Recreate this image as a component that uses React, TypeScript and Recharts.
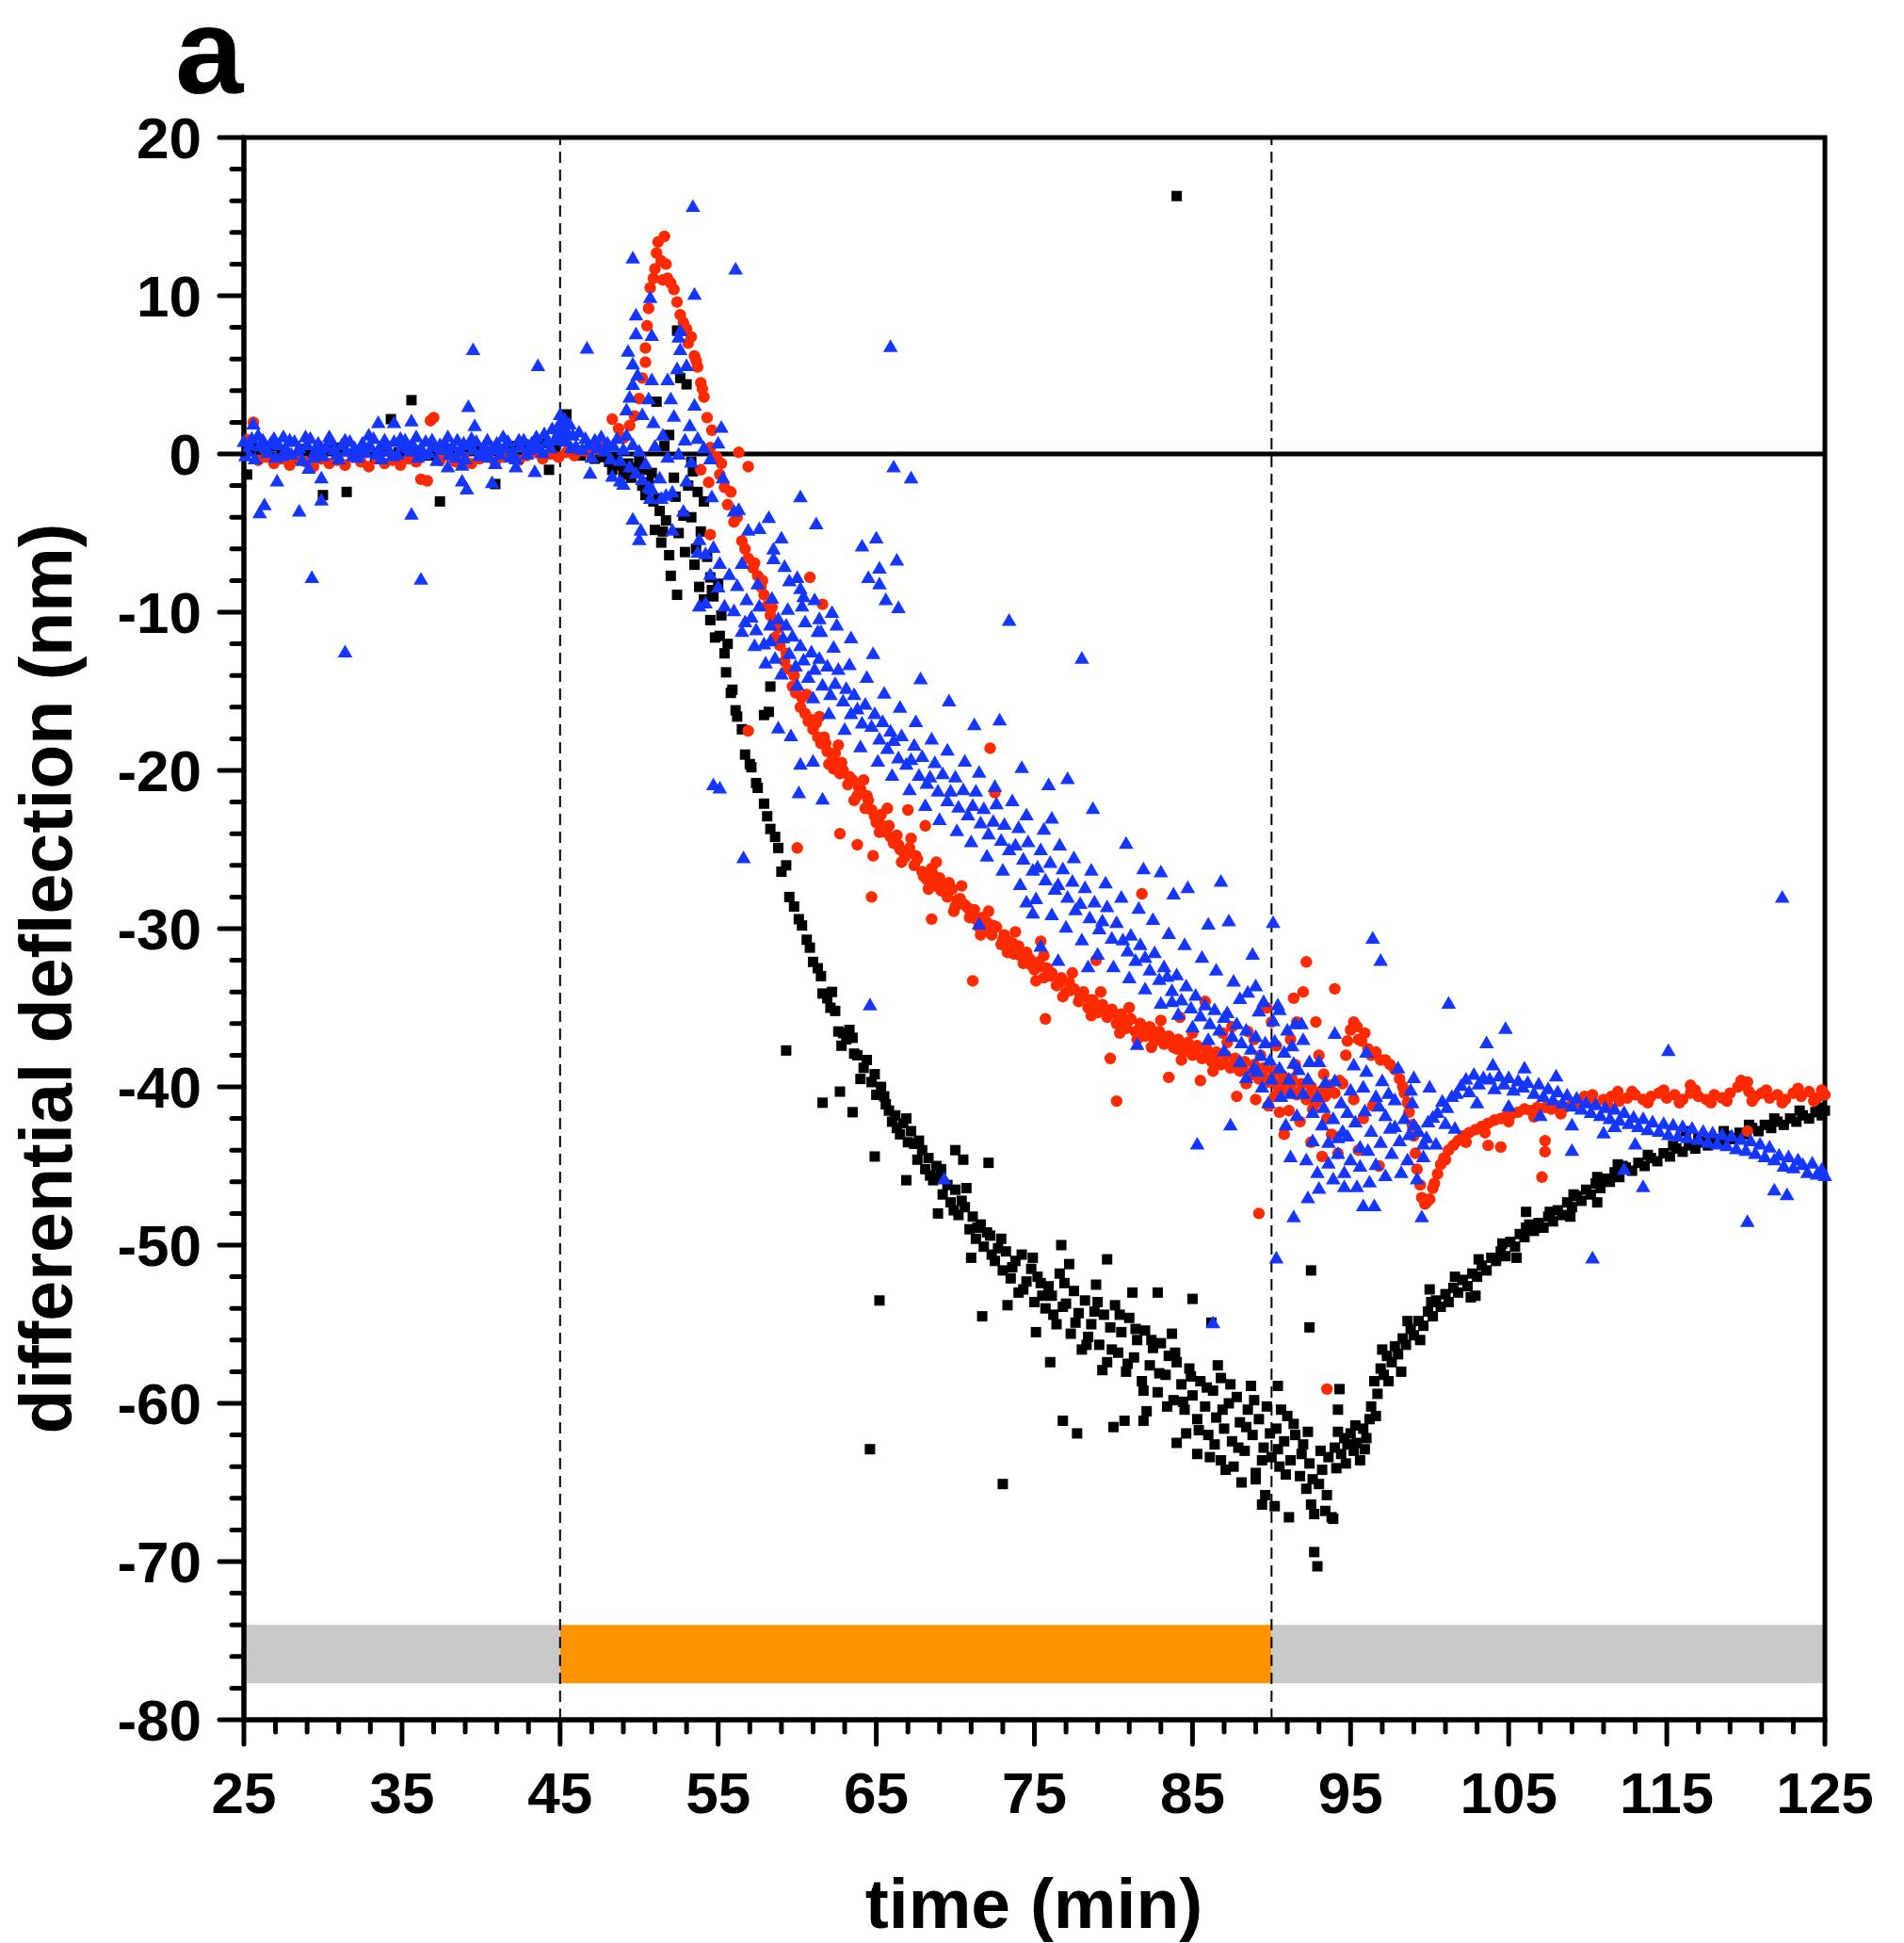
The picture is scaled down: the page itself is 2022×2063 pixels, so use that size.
import { ScatterChart, Scatter, XAxis, YAxis, ReferenceLine, ReferenceArea } from "recharts";

// time axis (min) and deflection axis (nm)
const xTicks = [25,27,29,31,33,35,37,39,41,43,45,47,49,51,53,55,57,59,61,63,65,67,69,71,73,75,77,79,81,83,85,87,89,91,93,95,97,99,101,103,105,107,109,111,113,115,117,119,121,123,125];
const xLabels = [25,35,45,55,65,75,85,95,105,115,125];
const yTicks = [-80,-78,-76,-74,-72,-70,-68,-66,-64,-62,-60,-58,-56,-54,-52,-50,-48,-46,-44,-42,-40,-38,-36,-34,-32,-30,-28,-26,-24,-22,-20,-18,-16,-14,-12,-10,-8,-6,-4,-2,0,2,4,6,8,10,12,14,16,18,20];
const yLabels = [-80,-70,-60,-50,-40,-30,-20,-10,0,10,20];

// buffer / injection phases shown as the strip at the bottom
const phases = [
  { from: 25, to: 45, kind: "buffer" },
  { from: 45, to: 90, kind: "injection" },
  { from: 90, to: 125, kind: "buffer" },
];
const phaseStrip = [-77.7, -74.0];
const switchTimes = [45, 90];

// [time, deflection]
const blackSquares: [number, number][] = [
  [25.2,-1.3],[25.5,0.4],[26.1,0.1],[26.8,0.5],[27.4,0.2],[28.0,-0.3],[28.7,0.3],[29.3,0.1],[30.0,-2.6],[30.5,0.2],[31.1,0.4],[31.5,-2.4],[32.0,0.0],[32.6,0.3],[33.3,-0.2],[33.9,0.5],[34.3,2.2],[34.8,0.1],[35.6,3.4],[36.1,0.2],[36.7,-0.1],[37.4,-3.0],[38.0,0.3],[38.6,0.1],[39.2,0.4],[39.9,0.2],[40.9,-1.9],[41.4,0.3],[42.0,0.5],[42.7,0.6],[43.3,0.4],[43.9,0.7],[44.3,-1.0],[44.7,0.3],[45.4,2.5],
  [45.8,0.2],[46.3,-0.1],[46.8,0.1],[47.2,-0.3],[47.7,-0.2],[48.1,-0.5],[48.5,-0.4],[48.9,-0.7],[49.3,-0.6],[49.7,-0.9],[50.0,-0.4],[50.2,-2.0],[50.3,-1.0],[50.6,-1.8],[50.9,-3.0],[51.0,-4.8],[51.1,3.3],[51.2,-2.8],[51.4,-5.6],[51.5,-4.9],[51.6,0.5],[51.9,1.2],[52.0,-7.7],[52.2,-1.5],[52.4,7.8],[52.4,-8.9],[52.6,4.8],[52.8,-3.9],[53.0,4.4],[53.1,-2.0],[53.3,-0.5],[53.3,-4.0],[53.4,-1.1],[53.6,-6.0],[53.7,-2.4],[53.9,-4.9],[54.1,-3.0],[54.1,-9.2],[54.3,-6.5],[54.5,-7.8],[54.5,-10.5],[54.7,-9.0],[54.8,-11.6],[55.0,-8.2],[55.1,-11.5],[55.2,-10.2],[55.4,-12.6],[55.5,-13.8],[55.6,-12.0],[55.8,-15.1],[55.9,-14.9],[56.1,-16.2],[56.2,-16.6],[56.5,-17.4],[56.7,-19.0],[57.0,-19.6],[57.1,-19.8],[57.4,-20.8],[57.5,-21.1],[57.9,-16.5],[58.2,-16.3],[58.3,-14.7],
  [48.3,-1.0],[49.0,-1.3],[49.5,-1.5],[50.4,-2.6],[50.8,-1.2],[51.3,-3.6],[51.7,-4.2],[52.5,-5.0],[52.9,-6.2],[53.5,-7.0],[53.8,-8.4],[54.6,-8.6],[52.3,-2.7],[51.9,-6.4],
  [57.9,-22.1],[58.1,-22.9],[58.3,-23.7],[58.6,-24.2],[58.8,-24.9],[59.0,-26.4],[59.3,-26.0],[59.5,-28.0],[59.8,-28.6],[60.1,-29.4],[60.3,-29.8],[60.6,-30.7],[60.8,-31.2],[61.0,-32.1],[61.3,-32.5],[61.5,-33.0],[61.6,-34.1],[61.9,-34.4],[62.1,-35.0],[62.4,-35.2],[62.6,-36.5],[62.9,-36.6],[63.1,-37.0],[63.3,-36.4],[63.6,-37.9],[63.8,-38.0],[64.2,-38.8],[64.4,-38.3],[64.7,-39.7],[65.0,-40.5],[65.3,-40.0],[65.6,-41.1],[65.8,-41.5],[66.0,-42.2],[66.2,-41.8],[66.5,-43.0],[66.7,-42.3],[67.0,-43.5],[67.2,-42.8],[67.4,-43.6],[67.6,-44.6],[67.9,-44.0],[68.1,-45.2],[68.3,-44.5],[68.6,-45.9],[68.8,-45.0],[69.0,-45.7],[69.2,-46.8],[69.5,-46.2],[69.7,-47.3],[70.0,-46.5],[70.2,-48.1],[70.4,-47.2],[70.6,-47.6],[70.9,-49.0],[71.1,-48.2],[71.3,-49.6],[71.6,-48.7],[71.8,-50.1],[72.0,-49.2],[72.2,-49.4],[72.5,-51.0],[72.7,-50.2],[73.0,-51.6],[73.2,-50.4],[73.5,-52.1],[73.8,-51.0],[74.0,-53.0],[74.2,-50.6],[74.5,-52.3],[74.8,-51.5],[75.0,-53.6],[75.2,-52.0],[75.4,-52.4],[75.7,-54.0],[75.9,-52.6],[76.1,-53.2],[76.4,-55.0],[76.6,-51.8],[76.8,-53.9],[77.0,-53.7],[77.3,-55.6],[77.5,-52.9],[77.8,-54.3],[78.0,-56.6],[78.2,-53.5],[78.4,-55.8],[78.6,-55.0],[78.9,-52.5],[79.1,-56.3],[79.4,-54.4],[79.6,-57.4],[79.8,-55.2],
  [62.2,-34.0],[62.8,-37.4],[63.5,-36.9],[64.0,-39.5],[64.9,-39.2],[65.5,-40.6],[66.3,-42.6],[66.9,-42.0],[67.7,-43.4],[68.4,-45.6],[69.1,-45.2],[69.9,-47.8],[70.7,-46.4],[71.4,-48.9],[72.3,-50.6],[72.9,-49.6],[73.6,-51.4],[74.3,-52.8],[74.9,-50.8],[75.5,-53.2],[76.2,-54.4],[76.9,-52.4],[77.6,-54.9],[78.3,-56.3],[78.8,-54.2],[79.3,-57.9],[79.9,-56.6],[75.1,-55.5],[77.2,-51.2],[79.0,-53.6],[73.3,-53.8],[71.0,-50.8],[68.9,-48.0],
  [80.1,-53.8],[80.3,-56.8],[80.5,-55.5],[80.8,-58.0],[81.0,-54.6],[81.3,-57.1],[81.5,-56.0],[81.8,-58.6],[82.0,-55.4],[82.3,-57.6],[82.5,-56.5],[82.8,-59.3],[83.0,-56.2],[83.3,-58.2],[83.5,-57.0],[83.8,-59.8],[84.0,-57.4],[84.3,-58.8],[84.5,-60.4],[84.8,-57.8],[85.0,-59.5],[85.3,-61.0],[85.5,-58.6],[85.8,-60.2],[86.0,-62.0],[86.3,-59.2],[86.5,-60.9],[86.8,-58.4],[87.0,-61.6],[87.3,-60.0],[87.5,-62.4],[87.8,-59.6],[88.0,-61.2],[88.3,-63.0],[88.5,-60.4],[88.8,-62.0],[89.0,-64.4],[89.2,-61.0],[89.5,-62.8],[89.7,-60.2],[90.0,-63.4],[90.3,-61.6],[90.5,-64.0],[90.8,-62.4],[91.0,-60.8],[91.2,-63.6],[91.5,-62.0],[91.8,-64.6],[92.0,-62.6],[92.2,-65.4],[92.4,-63.8],[92.5,-66.4],[92.7,-67.0],[92.7,-69.4],[92.9,-70.3],[93.0,-65.1],[93.2,-64.2],[93.4,-66.8],[93.6,-63.4],[93.8,-67.2],[94.0,-62.8],[94.2,-61.8],[94.4,-63.2],[94.6,-62.2],[94.8,-62.6],[95.0,-61.9],[95.2,-63.0],[95.4,-62.5],[95.6,-63.6],[95.8,-61.6],[96.0,-62.2],[96.2,-61.0],
  [80.4,-54.4],[80.9,-57.5],[81.4,-55.3],[81.9,-59.2],[82.4,-56.0],[82.9,-58.1],[83.4,-60.2],[83.9,-56.8],[84.4,-59.9],[84.9,-58.3],[85.4,-61.7],[85.9,-59.0],[86.4,-62.6],[86.9,-60.4],[87.4,-58.8],[87.9,-62.8],[88.4,-61.5],[88.9,-59.8],[89.4,-63.6],[89.9,-61.9],[90.4,-62.9],[90.9,-64.5],[91.4,-61.3],[91.9,-63.2],[92.3,-61.8],[92.6,-64.8],[93.1,-63.0],[93.5,-65.8],[94.1,-64.1],[94.7,-63.8],[95.3,-61.4],[95.9,-62.9],[81.2,-53.0],[83.7,-55.6],[86.6,-57.6],[88.7,-58.9],[90.6,-60.4],[82.1,-60.5],[84.6,-61.9],[86.1,-63.4],[87.1,-64.2],[88.1,-65.0],[89.6,-65.8],[90.2,-66.5],
  [64.6,-62.9],[65.2,-53.5],[73.0,-65.1],[77.7,-61.9],[84.0,16.3],[59.3,-37.7],[61.6,-41.0],[62.7,-40.3],[63.5,-41.6],[64.9,-44.4],[66.9,-45.9],[70.0,-44.0],[70.5,-44.6],[72.1,-44.8],[71.7,-54.5],[76.0,-57.4],[76.8,-61.1],[80.0,-61.5],[80.7,-61.1],[81.9,-61.1],[84.0,-62.5],[85.3,-63.2],[86.8,-63.6],[87.6,-64.0],[89.0,-64.8],[89.4,-66.4],[79.6,-50.9],[76.7,-50.0],[82.8,-53.0],[85.0,-53.4],[86.2,-54.9],[91.1,-67.2],[92.5,-51.6],[92.4,-55.2],[90.4,-58.9],[94.3,-59.1],[94.2,-60.4],[93.9,-67.3],
  [96.3,-60.2],[96.5,-58.6],[96.7,-59.4],[96.9,-57.8],[97.1,-58.2],[97.3,-57.0],[97.6,-57.4],[97.8,-56.4],[98.0,-56.9],[98.3,-55.9],[98.5,-56.3],[98.8,-55.3],[99.0,-55.7],[99.3,-54.8],[99.6,-55.1],[99.9,-54.2],[100.2,-54.5],[100.4,-53.5],[100.7,-53.9],[101.0,-53.1],[101.2,-53.6],[101.5,-52.7],[101.8,-53.0],[102.1,-52.2],[102.4,-52.6],[102.7,-51.8],[103.0,-52.0],[103.3,-51.3],[103.6,-51.6],[103.9,-50.8],[104.2,-51.0],[104.5,-50.4],[104.8,-50.7],[105.1,-49.8],[105.4,-50.1],[105.7,-49.3],[106.0,-49.5],[106.3,-48.7],[106.6,-49.1],[106.9,-48.6],[107.2,-48.9],[107.5,-48.2],[107.8,-48.5],[108.1,-47.8],[108.4,-48.1],[108.7,-47.3],[109.0,-47.6],[109.3,-46.9],[109.6,-47.2],[109.9,-46.5],[110.2,-46.8],[110.5,-46.1],[110.8,-46.4],[111.1,-45.8],[111.4,-46.0],[111.7,-45.4],[112.0,-45.7],[112.4,-45.1],[112.8,-45.3],[113.2,-44.8],[113.6,-45.0],[114.0,-44.5],[114.4,-44.7],[114.8,-44.2],[115.2,-44.4],[115.6,-43.9],[116.0,-44.1],[116.4,-43.7],[116.8,-43.9],[117.2,-43.5],[117.6,-43.7],[118.0,-43.3],[118.4,-43.5],[118.8,-43.1],[119.2,-43.3],[119.6,-42.9],[120.0,-43.0],[120.4,-42.6],[120.8,-42.8],[121.2,-42.4],[121.6,-42.6],[122.0,-42.2],[122.4,-42.4],[122.8,-42.0],[123.2,-42.2],[123.6,-41.8],[124.0,-42.0],[124.4,-41.6],[124.8,-41.8],[125.0,-41.5],
  [97.0,-56.6],[98.6,-54.8],[100.1,-53.6],[101.6,-52.0],[103.1,-50.9],[104.6,-49.9],[106.1,-48.9],[107.6,-47.9],[109.1,-46.8],[110.6,-45.7],[112.2,-45.0],[113.8,-44.3],[115.4,-43.7],[117.0,-43.2],[118.6,-42.8],[120.2,-42.4],[121.8,-42.0],[123.4,-41.5],[124.6,-41.3],[96.6,-60.8],[97.4,-58.6],[99.4,-56.0],[102.6,-53.3],[105.5,-50.8],[108.9,-48.2],
  [98.2,-58.0],[100.0,-52.8],[102.9,-53.2],[106.1,-47.9],[110.6,-47.3],[111.9,-44.9],[116.2,-42.8],
];

const redCircles: [number, number][] = [
  [25.2,0.9],[25.6,2.0],[25.9,-0.4],[26.4,-0.2],[26.9,-0.6],[27.4,-0.3],[27.9,-0.7],[28.4,-0.2],[28.9,-0.5],[29.4,-0.8],[29.9,-0.3],[30.4,-0.6],[30.9,-0.4],[31.4,-0.7],[31.9,-0.2],[32.4,-0.5],[32.9,-0.8],[33.4,-0.3],[33.9,-0.6],[34.4,-0.4],[34.9,-0.7],[35.4,-0.3],[35.9,-0.5],[36.2,-1.6],[36.6,-1.7],[36.8,2.1],[37.0,2.3],[37.4,-0.4],[37.9,-0.1],[38.4,-0.5],[38.9,-0.2],[39.4,-0.6],[39.9,-0.3],[40.4,-0.1],[40.9,-0.5],[41.4,-0.2],[41.9,0.0],[42.4,-0.4],[42.9,-0.1],[43.4,0.1],[43.9,-0.3],[44.4,0.0],[44.9,-0.2],[45.4,0.1],[45.9,-0.1],[46.4,0.2],[46.9,0.0],[47.4,0.3],[47.9,0.6],[48.3,2.2],[48.7,1.6],[49.0,1.0],[49.4,1.8],[49.7,2.4],
  [50.0,3.5],[50.2,4.8],[50.4,5.8],[50.4,6.7],[50.5,8.1],[50.6,9.2],[50.7,10.5],[50.9,11.1],[51.0,11.7],[51.1,12.7],[51.2,13.4],[51.4,12.2],[51.5,11.0],[51.6,13.75],[51.7,12.0],[51.8,11.1],[52.0,10.8],[52.2,10.4],[52.4,9.6],[52.6,8.8],[52.8,8.3],[53.0,7.9],[53.1,7.0],[53.3,7.4],[53.5,6.2],[53.6,5.9],[53.7,5.5],[53.9,4.5],[54.0,4.1],[54.1,3.6],[54.3,2.3],[54.5,0.4],[54.6,1.5],[54.9,-0.2],[55.1,-1.3],[55.2,-0.6],[55.4,-2.1],[55.6,-3.2],[55.8,-2.4],[56.0,-4.3],[56.2,-4.0],[56.5,-5.5],[56.7,-6.0],[56.9,-6.6],[57.2,-7.2],[57.5,-7.7],[57.7,-8.4],[57.9,-8.9],[58.1,-9.6],[58.3,-10.2],[58.5,-10.7],[58.6,-11.6],[58.9,-12.1],[59.2,-13.1],[59.4,-13.6],[59.7,-14.7],[59.9,-15.1],[60.2,-16.0],[60.5,-16.4],[60.7,-16.9],[61.0,-17.4],[61.2,-17.0],[61.5,-18.3],[61.7,-17.9],[61.9,-18.8],[62.2,-19.4],[62.4,-18.9],[62.7,-20.2],[62.9,-20.0],[63.2,-20.9],[63.5,-20.6],[63.8,-21.6],[64.0,-21.2],[64.3,-22.4],[64.5,-21.9],[64.7,-22.5],[65.0,-23.3],[65.3,-22.8],[65.6,-23.9],[65.8,-23.5],[66.1,-24.6],[66.3,-24.1],[66.5,-25.0],[66.8,-25.5],[67.1,-24.9],[67.4,-26.0],[67.6,-25.6],[67.9,-26.4],[68.2,-26.9],[68.5,-26.2],[68.7,-27.3],[69.0,-26.8],[69.2,-27.3],[69.5,-28.0],[69.8,-27.5],[70.0,-28.6],[70.3,-28.1],[70.6,-28.5],[70.9,-29.3],[71.2,-28.8],[71.5,-29.9],[71.7,-29.3],[72.0,-29.6],[72.3,-30.4],[72.6,-29.9],[72.9,-31.0],[73.1,-30.4],[73.4,-30.8],[73.7,-31.6],[74.0,-31.1],[74.3,-32.2],[74.5,-31.5],[74.7,-31.9],[75.0,-32.6],[75.3,-32.1],[75.6,-33.1],[75.8,-32.5],[76.1,-32.8],[76.4,-33.6],[76.7,-33.1],[77.0,-34.0],[77.2,-33.4],[77.5,-33.8],[77.8,-34.6],[78.1,-34.0],[78.4,-35.0],[78.7,-34.5],[79.0,-35.3],[79.3,-34.8],[79.6,-35.6],[79.9,-35.1],[80.2,-36.0],[80.5,-35.4],[80.8,-36.3],[81.1,-35.7],[81.4,-36.5],[81.7,-36.0],[82.0,-36.8],[82.3,-36.2],[82.6,-37.1],[82.9,-36.5],[83.2,-37.3],[83.5,-36.8],[83.8,-37.5],[84.1,-37.0],[84.4,-37.8],[84.7,-37.2],[85.0,-38.0],[85.3,-37.4],[85.6,-38.2],[85.9,-37.6],[86.2,-38.4],[86.5,-37.8],[86.8,-38.6],[87.1,-38.0],[87.4,-38.8],[87.7,-38.2],[88.0,-39.0],[88.3,-38.4],[88.6,-39.3],[88.9,-38.6],[89.2,-39.5],[89.5,-38.8],[89.8,-39.7],[90.1,-39.0],[90.4,-40.0],[90.7,-39.3],[91.0,-40.2],[91.3,-39.5],[91.6,-40.5],[91.9,-39.8],[92.2,-40.8],[92.5,-40.0],[92.8,-41.0],[93.1,-40.3],[93.4,-40.6],[93.7,-39.9],[94.0,-40.4],[94.3,-39.6],[94.5,-39.8],[94.7,-38.0],[94.8,-37.1],[95.0,-36.4],[95.2,-35.9],[95.4,-36.2],[95.5,-37.0],[95.7,-37.1],[95.9,-36.6],[96.1,-37.6],[96.3,-38.0],[96.6,-37.8],[96.9,-38.3],[97.2,-38.3],[97.5,-38.6],[97.8,-38.9],[98.1,-39.5],[98.3,-40.0],[98.4,-40.4],[98.6,-41.0],[98.7,-41.6],[98.9,-42.4],[99.0,-43.1],[99.1,-44.2],[99.2,-45.2],[99.4,-46.2],[99.5,-47.0],[99.7,-47.4],[99.8,-47.3],[100.0,-47.1],[100.2,-46.4],[100.3,-46.1],[100.5,-45.5],[100.7,-44.9],[100.9,-44.5],[101.2,-44.0],[101.5,-43.7],[101.8,-43.4],[102.1,-43.1],[102.5,-42.9],[102.9,-42.7],[103.3,-42.5],[103.7,-42.3],[104.1,-42.1],[104.5,-42.0],[104.8,-41.9],[105.2,-41.7],[105.6,-41.6],[106.0,-41.4],[106.4,-41.5],[106.8,-41.3],[107.3,-41.3],[107.7,-41.4],[108.1,-41.2],[108.5,-41.3],[109.0,-41.1],[109.5,-41.0],[110.0,-40.9],[110.5,-41.1],[111.0,-40.8],[111.5,-40.6],[112.0,-40.9],[112.5,-40.7],[113.0,-40.5],[113.5,-40.8],[114.0,-40.6],[114.5,-40.4],[115.0,-40.7],[115.5,-40.5],[116.0,-40.8],[116.5,-40.4],[117.0,-40.6],[117.5,-40.8],[118.0,-40.5],[118.5,-40.7],[119.0,-40.4],[119.5,-40.0],[119.7,-39.6],[119.9,-39.9],[120.2,-40.3],[120.6,-40.6],[121.0,-40.4],[121.5,-40.7],[122.0,-40.5],[122.5,-40.8],[123.0,-40.4],[123.5,-40.6],[124.0,-40.3],[124.5,-40.7],[125.0,-40.5],
  [57.3,-6.9],[57.8,-8.0],[58.4,-9.7],[58.8,-11.0],[59.3,-12.6],[59.8,-14.0],[60.3,-15.4],[60.9,-16.8],[61.3,-17.9],[61.8,-18.3],[62.3,-19.9],[62.8,-19.5],[63.3,-20.4],[63.9,-21.1],[64.4,-21.6],[64.9,-22.9],[65.4,-23.5],[65.9,-24.2],[66.4,-24.7],[66.9,-25.2],[67.5,-25.4],[68.0,-26.7],[68.6,-26.6],[69.1,-27.6],[69.6,-27.1],[70.1,-28.2],[70.8,-28.7],[71.3,-29.4],[71.9,-30.1],[72.4,-29.8],[73.0,-30.7],[73.6,-30.9],[74.1,-31.7],[74.8,-32.3],[75.4,-32.4],[76.0,-33.0],[76.6,-33.4],[77.3,-33.9],[77.9,-34.3],[78.5,-34.5],[79.1,-34.9],[79.7,-35.3],[80.3,-35.6],[80.9,-35.9],[81.6,-36.4],[82.2,-36.6],[82.8,-36.9],[83.4,-37.2],[84.0,-37.6],[84.6,-37.5],[85.2,-37.8],[85.8,-38.1],[86.4,-38.1],[87.0,-38.5],[87.6,-38.6],[88.2,-38.9],[88.8,-39.1],[89.4,-39.2],[90.0,-39.5],[90.6,-39.8],[91.2,-39.9],[91.8,-40.3],[92.4,-40.5],[93.0,-40.7],[93.6,-40.3],
  [60.6,-15.2],[61.4,-16.6],[62.0,-19.6],[62.6,-18.4],[63.6,-21.9],[64.2,-20.6],[65.2,-23.9],[65.7,-22.4],[66.6,-25.8],[67.2,-24.3],[68.3,-27.5],[68.8,-25.8],[69.9,-28.9],[70.4,-27.3],[71.6,-30.4],[72.1,-28.9],[73.3,-31.5],[73.8,-30.2],[75.1,-33.3],[75.6,-31.7],[76.8,-34.3],[77.4,-32.8],[78.6,-35.5],[79.2,-34.0],[80.4,-36.6],[81.0,-35.0],[82.4,-37.5],[83.0,-35.8],[84.3,-38.3],[85.0,-36.6],[86.3,-39.0],[87.2,-37.2],[88.4,-39.8],[89.3,-38.0],[90.2,-40.6],[91.5,-38.6],[92.6,-41.4],[93.3,-39.2],
  [84.2,-35.6],[86.9,-36.6],[88.9,-37.0],[87.8,-40.6],[85.5,-39.6],[90.3,-37.4],[91.1,-41.5],[89.8,-41.2],
  [101.0,-44.6],[102.3,-43.5],[103.5,-42.9],[105.0,-42.2],[106.6,-41.9],[108.3,-41.7],[110.3,-40.5],[111.3,-41.2],[112.8,-40.3],[113.8,-41.0],[114.8,-40.2],[115.8,-41.0],[116.8,-40.2],[117.8,-41.0],[118.8,-40.9],[120.4,-40.9],[121.3,-40.2],[122.3,-41.0],[123.3,-40.1],[124.3,-40.9],[124.8,-40.2],[111.9,-40.3],[109.8,-40.6],
  [88.5,-36.5],[89.0,-40.8],[89.7,-35.0],[90.0,-35.9],[90.5,-41.6],[91.2,-37.0],[91.4,-34.4],[91.6,-35.9],[92.0,-34.0],[92.2,-32.1],[92.8,-35.9],[93.0,-38.0],[93.5,-42.0],[94.0,-33.8],[93.8,-43.0],[94.2,-44.2],[91.8,-42.2],[92.5,-43.5],[93.2,-44.4],[90.8,-43.0],[95.2,-40.8],[95.8,-42.0],[96.4,-41.2],[96.8,-45.0],[95.5,-44.0],
  [56.9,-0.8],[56.3,0.1],[54.4,-1.8],[53.9,-1.0],[54.5,-5.1],[60.8,-7.8],[61.6,-9.5],[56.9,-17.5],[72.2,-18.6],[72.5,-21.4],[67.0,-22.5],[68.1,-23.5],[62.7,-24.0],[63.8,-24.7],[64.8,-25.4],[60.0,-24.9],[64.7,-28.0],[68.5,-29.4],[71.1,-33.3],[75.4,-30.8],[81.8,-27.8],[80.2,-40.9],[89.2,-48.0],[93.5,-59.1],[81.5,-37.0],[107.1,-45.7],[107.3,-43.4],[107.3,-44.1],[103.7,-43.7],[104.5,-43.8],[116.5,-39.9],[120.1,-39.7],[120.1,-42.8],[79.8,-38.2],[83.5,-39.4],[85.8,-34.6],[87.5,-36.2],[78.9,-32.0],[75.7,-35.7],
];

const blueTriangles: [number, number][] = [
  [25.0,0.8],[25.2,0.2],[25.5,1.0],[25.7,-0.3],[26.0,0.5],[26.2,0.9],[26.5,0.1],[26.7,0.7],[27.0,-0.2],[27.2,0.6],[27.5,1.1],[27.7,0.3],[28.0,0.0],[28.2,0.8],[28.5,0.4],[28.7,-0.4],[29.0,0.6],[29.2,1.0],[29.5,0.2],[29.7,0.7],[30.0,-0.1],[30.2,0.5],[30.5,0.9],[30.7,0.3],[31.0,-0.3],[31.2,0.6],[31.5,0.2],[31.7,0.8],[32.0,0.4],[32.2,-0.2],[32.5,0.7],[32.7,0.1],[33.0,0.5],[33.2,1.0],[33.5,0.3],[33.7,-0.3],[34.0,0.6],[34.2,0.2],[34.5,0.8],[34.7,0.0],[35.0,0.5],[35.2,0.9],[35.5,0.2],[35.7,0.6],[36.0,-0.2],[36.2,0.4],[36.5,0.8],[36.7,0.1],[37.0,0.5],[37.2,-0.4],[37.5,0.3],[37.7,0.7],[38.0,0.0],[38.2,0.5],[38.5,0.9],[38.7,0.2],[39.0,-0.3],[39.2,0.6],[39.5,0.3],[39.7,0.8],[40.0,0.1],[40.2,0.5],[40.5,-0.2],[40.7,0.4],[41.0,0.7],[41.2,0.0],[41.5,0.4],[41.7,0.8],[42.0,0.2],[42.2,-0.3],[42.5,0.5],[42.7,0.9],[43.0,0.3],[43.2,0.7],[43.5,1.1],[43.7,0.4],[44.0,1.3],[44.2,0.8],[44.5,1.6],[44.7,1.0],[45.0,2.0],
  [25.1,-0.1],[25.4,0.6],[25.9,1.2],[26.4,0.4],[26.9,1.0],[27.4,-0.1],[27.9,0.9],[28.4,0.2],[28.9,1.1],[29.4,-0.2],[29.9,0.4],[30.4,1.1],[30.9,0.0],[31.4,0.9],[31.9,-0.1],[32.4,0.3],[32.9,1.2],[33.4,0.0],[33.9,0.9],[34.4,-0.1],[34.9,1.0],[35.4,0.4],[35.9,1.1],[36.4,0.0],[36.9,0.9],[37.4,0.6],[37.9,1.1],[38.4,-0.2],[38.9,0.7],[39.4,1.0],[39.9,-0.1],[40.4,0.9],[40.9,0.3],[41.4,1.1],[41.9,-0.2],[42.4,0.9],[42.9,0.0],[43.4,0.6],[43.9,0.1],[44.4,0.4],[44.9,1.4],[45.1,0.9],[45.3,2.2],[45.5,1.3],[45.7,0.4],
  [25.6,1.9],[26.0,-3.7],[26.3,-3.2],[27.1,-1.7],[28.5,-3.6],[29.3,-7.8],[31.4,-12.5],[29.9,-1.5],[29.9,-2.9],[29.1,-0.9],[33.5,2.0],[34.5,2.0],[35.6,2.1],[35.6,-3.8],[36.2,-7.9],[39.2,3.0],[39.6,1.8],[39.5,6.6],[37.9,-0.8],[38.8,-0.7],[38.8,-1.7],[39.1,-2.2],[40.7,-1.8],[40.9,-0.6],[42.2,-0.8],[43.4,-1.1],[43.6,5.6],[45.0,2.5],
  [45.2,1.6],[45.4,0.8],[45.6,1.9],[45.8,1.2],[46.0,0.5],[46.2,1.4],[46.4,0.3],[46.6,1.0],[46.7,6.7],[46.8,0.6],[46.9,-1.2],[47.0,-0.2],[47.2,0.9],[47.4,0.4],[47.6,1.1],[47.8,0.2],[48.0,0.7],[48.2,-0.3],[48.4,0.5],[48.6,1.0],[48.8,-0.4],[48.3,-1.4],[48.8,-1.7],[49.0,0.3],[49.0,-1.9],[49.2,1.2],[49.2,2.8],[49.4,-0.8],[49.4,3.6],[49.3,6.5],[49.6,0.6],[49.6,4.4],[49.6,5.7],[49.6,12.4],[49.6,-4.1],[49.8,-1.2],[49.8,7.6],[49.8,8.8],[49.9,5.0],[50.0,0.2],[50.0,-5.4],[50.1,-4.8],[50.2,2.5],[50.2,-1.6],[50.4,-0.6],[50.6,3.5],[50.6,-2.1],[50.7,9.9],[50.7,-2.8],[50.8,4.7],[50.8,7.5],[50.8,-2.2],[50.9,2.0],[51.0,0.5],[51.3,-1.5],[51.4,-2.8],[51.5,1.2],[51.7,-2.6],[51.8,4.7],[51.8,-0.2],[52.0,3.5],[52.1,-2.4],[52.1,-4.8],[52.2,2.4],[52.4,5.4],[52.5,7.4],[52.5,0.0],[52.6,6.6],[52.6,7.8],[52.8,-3.6],[52.9,0.9],[53.0,5.6],[53.0,-1.7],[53.2,1.8],[53.3,-0.5],[53.4,15.65],[53.5,10.1],[53.5,3.1],[53.7,1.0],[53.7,-6.2],[53.8,-9.6],[54.1,0.4],[54.2,-9.4],[54.5,-0.3],[54.6,-2.7],[55.0,0.7],[55.2,1.7],[55.3,-1.5],[56.0,-3.6],[56.3,-3.5],[56.1,11.7],[56.9,-4.8],[57.6,-4.7],[58.2,-4.0],[58.5,-6.0],[59.0,-5.3],[58.5,-6.6],[59.2,-7.1],[59.5,-8.0],[60.0,-7.8],[60.2,-8.5],[60.2,-2.7],[60.4,-9.0],[60.3,-9.6],[61.1,-9.2],[61.4,-10.4],[61.5,-11.2],[62.2,-10.0],[64.1,-5.8],[65.0,-5.3],[64.5,-7.8],[65.2,-8.2],[65.9,6.8],[66.1,-0.8],[67.2,-1.5],
  [53.8,-5.4],[54.2,-6.3],[54.5,-7.6],[54.7,-5.9],[55.1,-6.9],[55.4,-9.6],[55.0,-8.4],[55.7,-7.6],[56.0,-9.9],[56.2,-8.3],[56.5,-11.2],[56.8,-9.2],[57.1,-10.3],[57.4,-11.1],[57.6,-9.6],[57.9,-12.0],[58.3,-10.8],[58.3,-11.8],[58.6,-12.9],[58.8,-10.4],[59.1,-11.6],[59.3,-10.8],[59.5,-12.6],[59.7,-11.5],[59.9,-13.4],[60.2,-12.1],[60.4,-13.0],[60.7,-14.1],[60.9,-12.5],[61.1,-13.6],[61.4,-12.9],[61.6,-14.6],[61.9,-13.4],[62.1,-15.2],[62.4,-14.5],[62.6,-13.6],[62.9,-15.6],[63.1,-14.8],[63.4,-16.4],[63.6,-15.2],[63.8,-16.1],[64.1,-17.0],[64.3,-15.8],[64.7,-17.2],[64.9,-16.4],[65.2,-18.0],[65.4,-16.9],[65.7,-18.6],[65.9,-17.5],[66.1,-18.1],[66.4,-19.2],[66.6,-17.8],[66.9,-19.6],[67.2,-19.3],[67.4,-18.4],[67.7,-20.3],[67.9,-19.1],[68.2,-20.8],[68.4,-20.4],[68.7,-19.5],[68.9,-21.3],[69.2,-20.2],[69.5,-21.9],[69.7,-21.3],[70.0,-20.4],[70.2,-22.3],[70.5,-21.2],[70.8,-22.8],[71.1,-22.2],[71.3,-21.3],[71.6,-23.3],[71.8,-22.4],[72.1,-24.0],[72.4,-23.2],[72.6,-22.1],[72.9,-24.4],[73.1,-23.4],[73.4,-25.0],[73.8,-24.7],[74.0,-23.6],[74.3,-25.6],[74.6,-24.5],[74.9,-26.3],[75.2,-26.1],[75.4,-25.0],[75.7,-26.9],[76.0,-25.8],[76.3,-27.5],[76.5,-27.2],[76.8,-26.2],[77.1,-28.0],[77.4,-27.0],[77.6,-28.8],[77.9,-28.4],[78.2,-27.4],[78.5,-29.3],[78.8,-28.3],[79.1,-30.0],[79.3,-29.5],[79.6,-28.6],[79.9,-30.6],[80.2,-29.6],[80.6,-30.7],[80.9,-31.4],[81.1,-30.4],[81.4,-32.0],[81.7,-31.0],[82.0,-31.8],[82.3,-32.6],[82.6,-31.5],[82.9,-33.2],[83.2,-32.4],[83.4,-33.0],[83.7,-33.9],[84.0,-32.9],[84.3,-34.5],[84.6,-33.6],[84.9,-35.0],[85.2,-34.2],[85.5,-35.5],[85.8,-34.8],[86.1,-36.0],[86.4,-35.1],[86.7,-36.4],[87.0,-35.6],[87.2,-35.3],[87.5,-36.8],[87.8,-36.0],[88.1,-37.2],[88.4,-36.4],[88.7,-37.6],[89.0,-36.8],[89.3,-38.0],[89.6,-37.2],[89.9,-38.3],[90.2,-37.1],[90.5,-38.8],[90.8,-37.8],[91.1,-39.5],[91.4,-38.5],[91.7,-38.9],[92.0,-40.4],[92.3,-39.5],[92.6,-41.6],[92.9,-40.6],[93.2,-42.4],[93.3,-41.3],[93.6,-43.5],[93.9,-42.0],[94.2,-44.2],[94.5,-42.8],[94.8,-43.1],[95.0,-44.6],[95.3,-42.2],[95.6,-43.8],[95.9,-41.5],[96.1,-44.0],[96.3,-42.8],[96.6,-40.6],[96.9,-43.5],[97.2,-41.8],[97.5,-42.6],[97.8,-42.5],[98.1,-43.4],[98.4,-42.0],[98.7,-43.0],[99.0,-42.4],[99.3,-42.8],[99.6,-43.6],[99.9,-42.2],[100.2,-41.9],[100.5,-41.6],[100.8,-40.9],[101.1,-41.3],[101.4,-40.6],[101.7,-40.4],[102.0,-39.9],[102.3,-39.5],[102.5,-40.3],[102.8,-39.2],[103.1,-39.8],[103.4,-39.4],[103.8,-39.5],[104.1,-40.1],[104.4,-39.3],[104.7,-39.8],[105.0,-39.4],[105.3,-40.2],[105.6,-39.6],[105.9,-40.0],[106.2,-39.7],[106.6,-40.4],[106.9,-39.8],[107.2,-40.6],[107.5,-40.1],[107.8,-40.8],[108.1,-40.3],[108.4,-41.0],[108.7,-40.5],[109.0,-41.2],[109.3,-40.7],[109.6,-41.4],[109.9,-41.0],[110.2,-41.6],[110.5,-41.1],[110.8,-41.8],[111.1,-41.3],[111.4,-42.0],[111.7,-41.4],[112.0,-42.1],[112.3,-41.6],[112.6,-42.3],[112.9,-41.9],[113.2,-42.5],[113.5,-42.0],[113.8,-42.7],[114.1,-42.2],[114.5,-42.8],[114.8,-42.3],[115.1,-43.0],[115.4,-42.4],[115.7,-43.1],[116.0,-42.5],[116.3,-43.2],[116.6,-42.6],[117.0,-43.3],[117.3,-42.8],[117.6,-43.5],[117.9,-42.9],[118.2,-43.6],[118.5,-43.0],[118.8,-43.7],[119.1,-43.1],[119.4,-43.9],[119.7,-43.3],[120.0,-44.0],[120.3,-43.4],[120.6,-44.2],[120.9,-43.6],[121.2,-44.4],[121.5,-43.8],[121.8,-44.6],[122.1,-44.3],[122.4,-45.0],[122.7,-44.4],[123.0,-45.1],[123.3,-44.6],[123.6,-44.9],[123.9,-45.4],[124.2,-44.8],[124.5,-45.5],[124.8,-45.2],[125.0,-45.6],
  [56.5,-6.9],[56.7,-10.6],[57.5,-8.2],[57.3,-12.1],[58.4,-9.1],[58.0,-13.2],[59.4,-9.8],[59.0,-13.9],[60.5,-10.6],[60.0,-14.6],[61.3,-11.2],[61.0,-15.4],[62.3,-12.2],[62.0,-16.4],[63.3,-13.3],[63.0,-17.4],[64.4,-14.1],[64.0,-18.5],[65.5,-15.1],[65.1,-19.4],[66.5,-16.0],[66.0,-20.3],[67.5,-16.9],[67.1,-21.2],[68.5,-18.0],[68.1,-22.2],[69.5,-18.7],[69.0,-23.1],[70.6,-19.4],[70.1,-23.8],[71.5,-20.1],[71.0,-24.5],[72.5,-21.0],[72.0,-25.4],[73.6,-21.9],[73.0,-26.3],[74.5,-22.8],[74.1,-27.2],[75.6,-23.7],[75.1,-28.1],[76.6,-24.7],[76.1,-29.1],[77.5,-25.5],[77.0,-29.9],[78.6,-26.3],[78.0,-30.7],[79.5,-27.1],[79.0,-31.6],[80.5,-28.0],[80.0,-32.4],[81.6,-28.7],[81.0,-33.1],[82.5,-29.4],[82.0,-33.8],[83.5,-30.3],[83.0,-34.7],[84.5,-31.0],[84.1,-35.4],[85.6,-31.8],[85.0,-36.2],[86.5,-32.6],[86.0,-37.0],[87.6,-33.3],[87.0,-37.7],[88.5,-34.0],[88.0,-38.4],[89.5,-34.6],[89.1,-39.0],[90.5,-35.1],[90.0,-39.5],[91.5,-36.0],[91.2,-40.4],
  [62.5,-10.8],[64.8,-12.6],[67.8,-14.2],[69.6,-15.6],[71.2,-17.1],[72.8,-16.8],[74.2,-19.8],[75.9,-20.9],[78.7,-22.4],[80.8,-24.6],[83.8,-27.8],[86.0,-29.7],[88.8,-31.6],[84.7,-27.4],
  [88.0,-34.4],[89.2,-35.2],[90.1,-35.8],[91.0,-36.4],[92.0,-37.0],[93.0,-38.4],[94.0,-39.6],[95.0,-40.2],[96.0,-39.0],[97.0,-39.6],[98.0,-38.8],[99.0,-39.4],[100.0,-40.0],[90.6,-40.6],[91.6,-41.8],[92.6,-43.4],[93.6,-44.8],[94.6,-45.4],[95.6,-45.0],[96.6,-44.9],[97.6,-44.2],[98.6,-44.6],[99.6,-44.4],[88.4,-39.4],[89.4,-40.0],[91.9,-36.0],[94.4,-41.0],[95.2,-38.6],[97.4,-40.4],[98.9,-41.0],
  [89.0,-33.6],[90.4,-34.8],[91.3,-37.4],[92.4,-38.4],[93.4,-39.7],[94.8,-41.6],[95.4,-46.3],[96.2,-46.0],[97.2,-45.6],[98.2,-45.4],[99.2,-45.8],[93.0,-46.4],[94.2,-43.2],[95.8,-40.0],[96.8,-41.2],[97.8,-40.8],[98.8,-40.2],[99.8,-43.2],[100.4,-43.6],[101.6,-42.6],[92.2,-44.6],[90.9,-42.4],[89.8,-41.0],[88.9,-38.8],[94.0,-36.6],[96.0,-37.8],
  [101.0,-42.3],[103.0,-41.0],[105.0,-41.2],[107.0,-41.8],[109.0,-42.4],[111.0,-42.9],[113.0,-43.6],[104.0,-38.6],[106.0,-38.8],[108.0,-39.3],
  [81.9,-26.2],[83.0,-26.4],[86.8,-27.0],[87.3,-29.5],[90.1,-29.6],[96.4,-30.6],[96.9,-32.0],[101.2,-34.7],[104.8,-36.3],[103.6,-37.2],[115.1,-37.7],[122.3,-28.0],[120.1,-48.5],[121.8,-46.5],[122.6,-46.8],[110.3,-50.8],[113.5,-46.3],[99.5,-48.2],[95.8,-47.5],[96.5,-47.5],[94.6,-46.3],[93.9,-45.8],[92.9,-45.4],[92.3,-47.0],[91.4,-48.2],[91.2,-44.4],[90.3,-50.8],[87.4,-42.4],[85.3,-43.6],[86.3,-54.9],[81.5,-37.3],[83.7,-34.6],[109.0,-44.0],[111.7,-42.5],[112.3,-45.2],
  [73.4,-10.5],[78.0,-12.9],[77.1,-20.5],[76.1,-23.0],[65.2,-7.2],[66.3,-6.7],[61.2,-4.4],[63.4,-11.6],[65.6,-9.2],[66.4,-9.7],[69.3,-45.8],[56.6,-25.5],[54.7,-20.9],[55.1,-21.1],[60.1,-21.4],[61.6,-21.8],[60.2,-19.6],[61.0,-19.4],[58.8,-17.3],[59.6,-17.8],[64.6,-34.8],[75.4,-31.1],[76.5,-32.0],[74.5,-28.3],[74.9,-29.0],[71.5,-29.7],[78.4,-32.4],
];

const FONT = "'Liberation Sans', Arial, Helvetica, sans-serif";

const toRows = (pts: [number, number][]) => pts.map(([t, v]) => ({ t, v }));

const BlackSquare = (p: any) => <rect x={p.cx - 5.5} y={p.cy - 5.5} width={11} height={11} fill="#000000" />;
const RedCircle = (p: any) => <circle cx={p.cx} cy={p.cy} r={6.2} fill="#ff2a00" />;
const BlueTriangle = (p: any) => (
  <polygon points={`${p.cx},${p.cy - 7.5} ${p.cx - 7.8},${p.cy + 6} ${p.cx + 7.8},${p.cy + 6}`} fill="#1436ff" />
);

const XTick = ({ x, y, payload }: any) => {
  const major = xLabels.includes(payload.value);
  return (
    <g>
      <line x1={x} x2={x} y1={y} y2={y + (major ? 26 : 13)} stroke="#000" strokeWidth={5} strokeLinecap="round" />
      {major && (
        <text x={x} y={y + 99} textAnchor="middle" fontSize={62} fontWeight={700} fontFamily={FONT} fill="#000">
          {payload.value}
        </text>
      )}
    </g>
  );
};

const YTick = ({ x, y, payload }: any) => {
  const major = yLabels.includes(payload.value);
  return (
    <g>
      <line x1={x} x2={x - (major ? 26 : 13)} y1={y} y2={y} stroke="#000" strokeWidth={5} strokeLinecap="round" />
      {major && (
        <text x={x - 45} y={y + 22} textAnchor="end" fontSize={62} fontWeight={700} fontFamily={FONT} fill="#000">
          {payload.value}
        </text>
      )}
    </g>
  );
};

export default function App() {
  return (
    <div style={{ position: "relative", width: 2022, height: 2063, background: "#fff" }}>
      <style>{"body{margin:0;background:#fff}"}</style>
      <ScatterChart width={2022} height={2063} margin={{ top: 146, right: 84, bottom: 0, left: 0 }}>
        <XAxis
          type="number"
          dataKey="t"
          domain={[25, 125]}
          ticks={xTicks}
          interval={0}
          height={237}
          tickSize={0}
          tickMargin={0}
          tickLine={false}
          tick={(p: any) => <XTick {...p} />}
          axisLine={{ stroke: "#000", strokeWidth: 5 }}
        />
        <YAxis
          type="number"
          dataKey="v"
          domain={[-80, 20]}
          ticks={yTicks}
          interval={0}
          width={259}
          tickSize={0}
          tickMargin={0}
          tickLine={false}
          tick={(p: any) => <YTick {...p} />}
          axisLine={{ stroke: "#000", strokeWidth: 5 }}
        />
        {phases.map((ph, i) => (
          <ReferenceArea
            key={i}
            x1={ph.from}
            x2={ph.to}
            y1={phaseStrip[0]}
            y2={phaseStrip[1]}
            fill={ph.kind === "injection" ? "#ff9400" : "#c9c9c9"}
            fillOpacity={1}
            stroke="none"
          />
        ))}
        {switchTimes.map((t) => (
          <ReferenceLine key={t} x={t} stroke="#000" strokeWidth={2} strokeDasharray="12 7" />
        ))}
        <ReferenceLine y={0} stroke="#000" strokeWidth={5} />
        <Scatter data={toRows(blackSquares)} shape={BlackSquare} isAnimationActive={false} />
        <Scatter data={toRows(redCircles)} shape={RedCircle} isAnimationActive={false} />
        <Scatter data={toRows(blueTriangles)} shape={BlueTriangle} isAnimationActive={false} />
        <ReferenceArea x1={25} x2={125} y1={-80} y2={20} fill="none" stroke="#000" strokeWidth={5} />
      </ScatterChart>
      <svg width={2022} height={2063} style={{ position: "absolute", left: 0, top: 0, pointerEvents: "none" }}>
        <text x={186} y={99} fontSize={130} fontWeight={700} fontFamily={FONT} fill="#000">a</text>
        <text
          transform="translate(76,1039) rotate(-90)"
          textAnchor="middle"
          fontSize={77}
          fontWeight={700}
          fontFamily={FONT}
          fill="#000"
        >
          differential deflection (nm)
        </text>
        <text x={1098} y={2047} textAnchor="middle" fontSize={75} fontWeight={700} fontFamily={FONT} fill="#000">
          time (min)
        </text>
      </svg>
    </div>
  );
}
